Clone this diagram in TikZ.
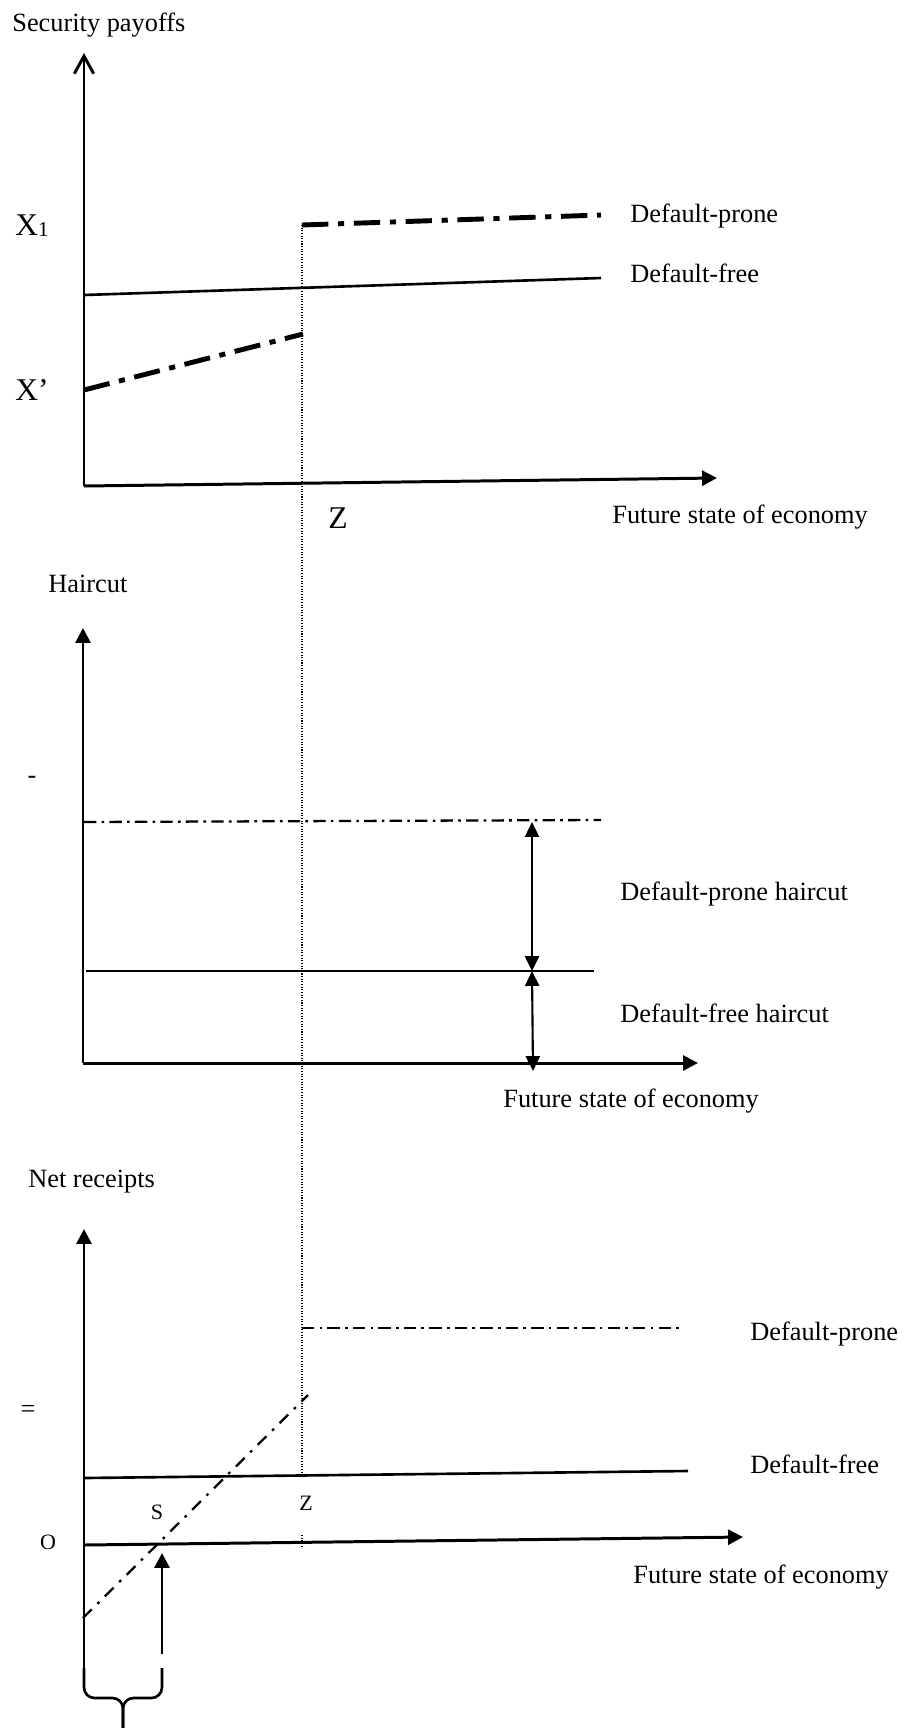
\documentclass[tikz,border=0pt]{standalone}
\usepackage{fontspec}
\setmainfont{Liberation Serif}
\usetikzlibrary{arrows.meta,positioning,calc}
\tikzset{
  axis style/.style={line width=1.7pt},
  free style/.style={line width=1.5pt},
  prone style/.style={line width=2.8pt, dash pattern=on 15pt off 5.5pt on 3.5pt off 5.5pt},
  thin prone style/.style={line width=1.3pt, dash pattern=on 7pt off 3pt on 1.5pt off 3pt},
  slant prone style/.style={line width=1.3pt, dash pattern=on 7pt off 4.5pt on 1.5pt off 4.5pt},
  guide style/.style={line width=0.6pt, dash pattern=on 0.6pt off 0.9pt},
  arr style/.style={-{Triangle[length=8.5pt,width=8.5pt]}},
  dbl style/.style={{Triangle[length=8.5pt,width=8pt]}-{Triangle[length=8.5pt,width=8pt]}, line width=1.2pt},
  lbl style/.style={anchor=base west, inner sep=0pt, font=\fontsize{15}{18}\selectfont},
  big lbl style/.style={anchor=base west, inner sep=0pt, font=\fontsize{18}{21}\selectfont},
  small lbl style/.style={anchor=base, inner sep=0pt, font=\fontsize{12.5}{15}\selectfont}
}
\begin{document}
\begin{tikzpicture}[x=0.02cm, y=-0.02cm]
\useasboundingbox (0,0) rectangle (905,1728);
% security payoffs
\coordinate (o1) at (84,486);
\coordinate (y1) at (84,53);
\coordinate (x1) at (717,478);
\coordinate (dfL) at (84,295);
\coordinate (dfR) at (601,278);
\coordinate (dpA) at (84,390);
\coordinate (dpB) at (303,334);
\coordinate (dpC) at (302,225);
\coordinate (dpD) at (601,215);
\draw[axis style, -{Straight Barb[length=10pt,width=11pt]}] (o1) -- (y1);
\draw[axis style, arr style] (o1) -- (x1);
\draw[free style] (dfL) -- (dfR);
\draw[prone style] (dpA) -- (dpB);
\draw[prone style] (dpC) -- (dpD);
\node[lbl style] (secpay) at (12,31) {Security payoffs};
\node[big lbl style] (xone) at (15,235) {X\raisebox{-1pt}{\fontsize{12}{12}\selectfont 1}};
\node[big lbl style] (xprime) at (15,400) {X’};
\node[lbl style] (dp1) at (630,222) {Default-prone};
\node[lbl style] (df1) at (630,282) {Default-free};
\node[big lbl style] (zone) at (328,528) {Z};
\node[lbl style] (fs1) at (612,523) {Future state of economy};
% haircut
\coordinate (o2) at (83,1063);
\coordinate (y2) at (83,628);
\coordinate (x2) at (698,1063);
\coordinate (hpL) at (84,822);
\coordinate (hpR) at (601,820);
\coordinate (hfL) at (86,971);
\coordinate (hfR) at (594,971);
\coordinate (ar1) at (532,822);
\coordinate (ar2) at (532,971);
\coordinate (ar3) at (533,1071);
\draw[axis style, arr style] (o2) -- (y2);
\draw[axis style, arr style] (o2) -- (x2);
\draw[thin prone style] (hpL) -- (hpR);
\draw[free style] (hfL) -- (hfR);
\draw[dbl style] (ar1) -- (ar2);
\draw[dbl style] (ar2) -- (ar3);
\node[lbl style] (hc) at (48,592) {Haircut};
\node[lbl style, anchor=base] (minus) at (32,783) {-};
\node[lbl style] (dph) at (620,900) {Default-prone haircut};
\node[lbl style] (dfh) at (620,1022) {Default-free haircut};
\node[lbl style] (fs2) at (503,1107) {Future state of economy};
% net receipts
\coordinate (o3) at (84,1545);
\coordinate (y3) at (84,1229);
\coordinate (yb) at (84,1690);
\coordinate (x3) at (743,1537);
\coordinate (npL) at (302,1328);
\coordinate (npR) at (682,1328);
\coordinate (nfL) at (84,1478);
\coordinate (nfR) at (688,1471);
\coordinate (slA) at (83,1618);
\coordinate (slB) at (308,1395);
\coordinate (zBot) at (302,1476);
\coordinate (tkA) at (302,1535);
\coordinate (tkB) at (302,1547);
\coordinate (sTip) at (162,1553);
\coordinate (sFoot) at (162,1654);
\coordinate (brL) at (84,1668);
\coordinate (brR) at (162,1668);
\coordinate (brM) at (123,1698);
\coordinate (brT) at (123,1730);
\draw[axis style, arr style] (yb) -- (y3);
\draw[axis style, arr style] (o3) -- (x3);
\draw[thin prone style] (npL) -- (npR);
\draw[free style] (nfL) -- (nfR);
\draw[slant prone style] (slA) -- (slB);
\draw[axis style, arr style] (sFoot) -- (sTip);
\draw[free style, rounded corners=6pt] (brL) |- (brM) -- (brT);
\draw[free style, rounded corners=6pt] (brR) |- (brM) -- (brT);
\node[lbl style] (nr) at (28,1187) {Net receipts};
\node[lbl style, anchor=base] (eq) at (28,1417) {=};
\node[lbl style] (dp3) at (750,1340) {Default-prone};
\node[lbl style] (df3) at (750,1473) {Default-free};
\node[small lbl style] (ztwo) at (306,1510) {Z};
\node[small lbl style] (sl) at (157,1519) {S};
\node[small lbl style] (ol) at (48,1549) {O};
\node[lbl style] (fs3) at (633,1583) {Future state of economy};
% state Z guide
\draw[guide style] (dpC) -- (zBot);
\draw[guide style] (tkA) -- (tkB);
\end{tikzpicture}
\end{document}
